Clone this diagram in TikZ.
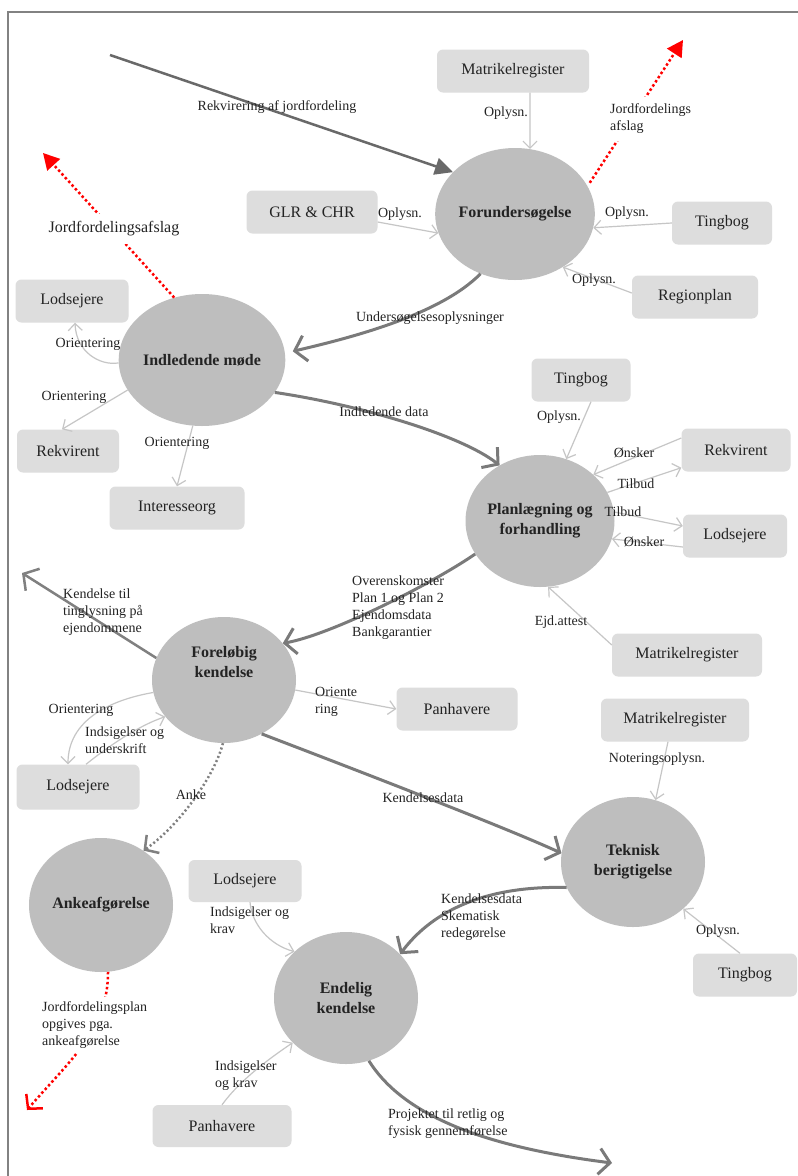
\documentclass[tikz,border=0pt]{standalone}
\usepackage{fontspec}
\setmainfont{Liberation Serif}
\usetikzlibrary{shapes.geometric,arrows.meta,calc}
\definecolor{circfill}{RGB}{190,190,190}
\definecolor{boxfill}{RGB}{221,221,221}
\definecolor{thickgray}{RGB}{122,122,122}
\definecolor{reqgray}{RGB}{105,105,105}
\definecolor{thingray}{RGB}{198,198,198}
\definecolor{framegray}{RGB}{130,130,130}
\definecolor{txt}{RGB}{35,35,35}
\begin{document}
\begin{tikzpicture}[x=1pt,y=-1pt,
  phase/.style={ellipse, fill=circfill, minimum width=144pt, minimum height=132pt,
    inner sep=0pt, align=center, font=\fontsize{16}{20}\selectfont\bfseries, text=txt},
  phasetext/.style={inner sep=0pt, align=center, font=\fontsize{16}{20}\selectfont\bfseries, text=txt},
  party/.style={rectangle, rounded corners=6pt, fill=boxfill, minimum height=43pt,
    inner sep=2pt, font=\fontsize{16}{19}\selectfont, text=txt},
  lbl/.style={font=\fontsize{14}{17}\selectfont, inner sep=1pt, align=left, text=txt},
  flow/.style={draw=thingray, line width=1.2pt, -{Straight Barb[length=7pt,width=14pt]}},
  mainflow/.style={draw=thickgray, line width=3pt, -{Straight Barb[length=11pt,width=26pt]}},
  request/.style={draw=reqgray, line width=2.5pt, -{Triangle[length=18pt,width=17pt]}},
  reject/.style={draw=red, line width=2.5pt, dash pattern=on 2.5pt off 2.5pt,
    -{Triangle[length=16pt,width=17pt]}},
  rejectopen/.style={draw=red, line width=2.5pt, dash pattern=on 2.5pt off 2.5pt,
    -{Straight Barb[length=10pt,width=22pt]}},
  appeal/.style={draw=gray, line width=2.5pt, dash pattern=on 2pt off 2.5pt,
    -{Straight Barb[length=10pt,width=22pt]}},
]
\useasboundingbox (0,0) rectangle (798,1176);
\fill[white] (0,0) rectangle (798,1176);
% page frame
\draw[framegray, line width=2pt] (8,1176) -- (8,12) -- (798,12);

% phases of the land consolidation
\node[phase] (fu) at (515,214) {Forundersøgelse};
\node[phase] (im) at (202,360) {Indledende møde};
\node[phase] (pf) at (540,521) {Planlægning og\\forhandling};
\node[phase, minimum height=126pt] (fk) at (224,680) {};
\node[phasetext] (fkt) at (224,662) {Foreløbig\\kendelse};
\node[phase, minimum height=130pt] (tb) at (633,862) {Teknisk\\berigtigelse};
\node[phase, minimum height=134pt] (af) at (101,905) {Ankeafgørelse};
\node[phase] (ek) at (346,998) {Endelig\\kendelse};

% parties and registers
\node[party, minimum width=152pt] (mr1) at (513,71) {Matrikelregister};
\node[party, minimum width=131pt] (glr) at (312,212) {GLR \& CHR};
\node[party, minimum width=100pt] (tb1) at (722,223) {Tingbog};
\node[party, minimum width=126pt] (rp) at (695,297) {Regionplan};
\node[party, minimum width=113pt] (ls1) at (72,301) {Lodsejere};
\node[party, minimum width=102pt] (rk1) at (68,451) {Rekvirent};
\node[party, minimum width=135pt] (io) at (177,508) {Interesseorg};
\node[party, minimum width=99pt] (tb2) at (581,380) {Tingbog};
\node[party, minimum width=109pt] (rk2) at (736,450) {Rekvirent};
\node[party, minimum width=104pt] (ls2) at (735,536) {Lodsejere};
\node[party, minimum width=150pt] (mr2) at (687,655) {Matrikelregister};
\node[party, minimum width=121pt] (ph1) at (457,709) {Panhavere};
\node[party, minimum width=123pt, minimum height=45pt] (ls3) at (78,787) {Lodsejere};
\node[party, minimum width=148pt] (mr3) at (675,720) {Matrikelregister};
\node[party, minimum width=104pt] (tb3) at (745,975) {Tingbog};
\node[party, minimum width=113pt, minimum height=42pt] (ls4) at (245,881) {Lodsejere};
\node[party, minimum width=139pt, minimum height=42pt] (ph2) at (222,1126) {Panhavere};

% free ends of outgoing connectors
\coordinate (rq) at (110,55);
\coordinate (rj1) at (683,40);
\coordinate (rj2) at (43,153);
\coordinate (kt) at (22,573);
\coordinate (pe) at (612,1163);
\coordinate (ja) at (27,1110);

% connectors
\draw[request] (rq) -- (fu.146);
\draw[flow] ($(mr1.south)+(17,0)$) -- (fu.77);
\draw[reject, shorten <=4pt] (fu.21) -- (rj1);
\draw[flow] ($(glr.east)+(0,10)$) -- (fu.194);
\draw[flow] (tb1.west) -- (fu.350);
\draw[flow] ($(rp.west)+(0,-4)$) -- (fu.312);
\draw[mainflow] (fu.240) .. controls (440,315) and (350,338) .. ($(im.6)+(8,0)$);

\draw[reject] (im.114) -- (rj2);
\draw[flow] (im.182) .. controls (100,366) and (76,352) .. ($(ls1.south)+(3,0)$);
\draw[flow] (im.202) -- ($(rk1.north)+(-6,0)$);
\draw[flow] (im.262) -- (io.north);
\draw[mainflow] (im.336) .. controls (360,405) and (461,435) .. (pf.126);

\draw[flow] ($(tb2.south)+(10,0)$) -- (pf.67);
\draw[flow] ($(rk2.west)+(0,-12)$) -- (pf.41);
\draw[flow] (pf.23) -- ($(rk2.south west)+(0,-4)$);
\draw[flow] (pf.7) -- ($(ls2.west)+(0,-10)$);
\draw[flow] ($(ls2.west)+(0,11)$) -- (pf.346);
\draw[flow] ($(mr2.west)+(0,-10)$) -- (pf.277);
\draw[mainflow] (pf.207) .. controls (430,585) and (330,635) .. (fk.32);

\draw[mainflow, draw=gray, line width=2.5pt] (fk.162) -- (kt);
\draw[flow] (fk.190) .. controls (110,700) and (68,720) .. ($(ls3.north)+(-10,0)$);
\draw[flow] ($(ls3.north)+(8,0)$) .. controls (110,745) and (140,725) .. (fk.212);
\draw[flow] (fk.352) -- (ph1.west);
\draw[appeal] (fk.269) .. controls (215,775) and (180,825) .. (af.52);
\draw[mainflow] (fk.305) .. controls (330,760) and (500,825) .. (tb.173);

\draw[flow] ($(mr3.south)+(-7,0)$) -- (tb.70);
\draw[flow] ($(tb3.north)+(-5,0)$) -- (tb.317);
\draw[mainflow] (tb.201) .. controls (470,885) and (424,922) .. (ek.39);

\draw[flow] ($(ls4.south)+(5,0)$) .. controls (252,925) and (270,945) .. (ek.138);
\draw[flow] (ph2.north) .. controls (240,1080) and (270,1058) .. (ek.220);
\draw[mainflow] (ek.290) .. controls (400,1110) and (470,1145) .. (pe);

\draw[rejectopen] (af.276) .. controls (108,1030) and (70,1060) .. (ja);

% connector labels
\node[lbl] (t1) at (277,107) {Rekvirering af jordfordeling};
\node[lbl] (t2) at (506,113) {Oplysn.};
\node[lbl, anchor=west, fill=white, inner sep=7pt] (t3) at (603,119) {Jordfordelings\\afslag};
\node[lbl] (t4) at (400,214) {Oplysn.};
\node[lbl] (t5) at (627,213) {Oplysn.};
\node[lbl] (t6) at (594,280) {Oplysn.};
\node[lbl] (t7) at (430,318) {Undersøgelsesoplysninger};
\node[lbl, font=\fontsize{16}{19}\selectfont, fill=white, inner sep=8pt] (t8) at (114,229) {Jordfordelingsafslag};
\node[lbl] (t9) at (88,344) {Orientering};
\node[lbl] (t10) at (74,397) {Orientering};
\node[lbl] (t11) at (177,443) {Orientering};
\node[lbl] (t12) at (384,412) {Indledende data};
\node[lbl] (t13) at (559,417) {Oplysn.};
\node[lbl] (t14) at (634,453) {Ønsker};
\node[lbl] (t15) at (636,484) {Tilbud};
\node[lbl] (t16) at (623,512) {Tilbud};
\node[lbl] (t17) at (644,542) {Ønsker};
\node[lbl] (t18) at (561,622) {Ejd.attest};
\node[lbl, anchor=west] (t19) at (351,608) {Overenskomster\\Plan 1 og Plan 2\\Ejendomsdata\\Bankgarantier};
\node[lbl, anchor=west] (t20) at (62,612) {Kendelse til\\tinglysning på\\ejendommene};
\node[lbl] (t21) at (81,710) {Orientering};
\node[lbl, anchor=west] (t22) at (84,740) {Indsigelser og\\underskrift};
\node[lbl, anchor=west] (t23) at (314,702) {Oriente\\ring};
\node[lbl] (t24) at (191,795) {Anke};
\node[lbl] (t25) at (423,798) {Kendelsesdata};
\node[lbl] (t26) at (657,759) {Noteringsoplysn.};
\node[lbl] (t27) at (718,931) {Oplysn.};
\node[lbl, anchor=west] (t28) at (440,917) {Kendelsesdata\\Skematisk\\redegørelse};
\node[lbl, anchor=west] (t29) at (209,920) {Indsigelser og\\krav};
\node[lbl, anchor=west] (t30) at (214,1076) {Indsigelser\\og krav};
\node[lbl, anchor=west] (t31) at (387,1124) {Projektet til retlig og\\fysisk gennemførelse};
\node[lbl, anchor=west, fill=white, inner sep=5pt] (t32) at (37,1025) {Jordfordelingsplan\\opgives pga.\\ankeafgørelse};
\end{tikzpicture}
\end{document}
